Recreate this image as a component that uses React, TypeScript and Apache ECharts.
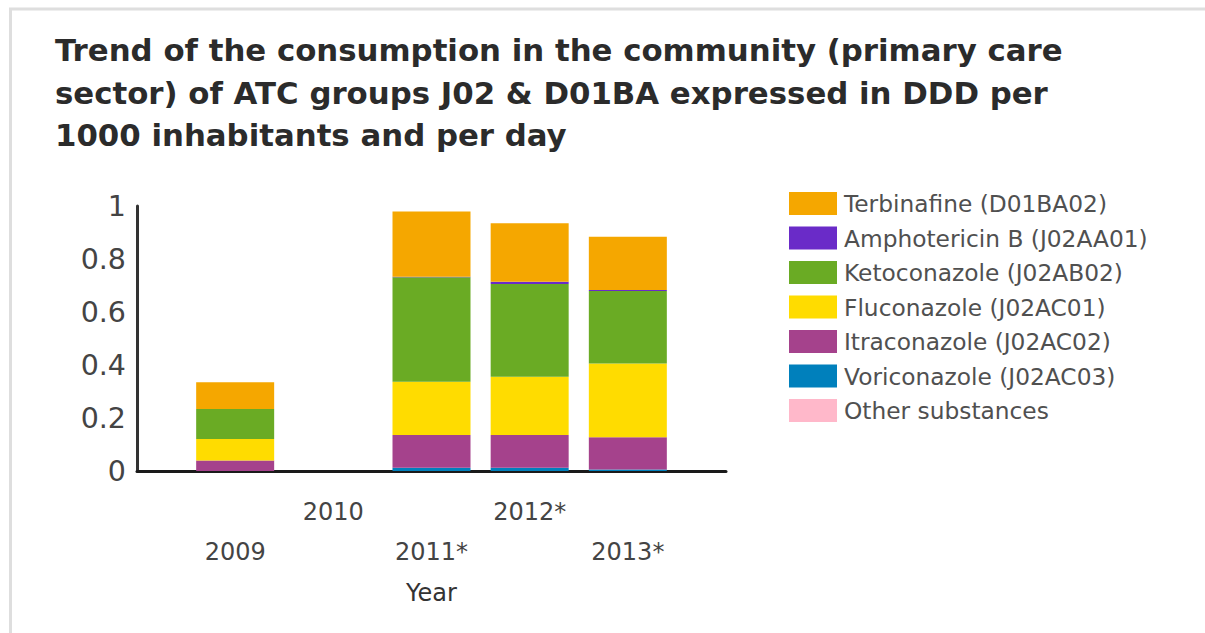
import React, { useEffect, useRef } from "react";
import * as echarts from "echarts";

const TITLE = "Trend of the consumption in the community (primary care\nsector) of ATC groups J02 & D01BA expressed in DDD per\n1000 inhabitants and per day";
const years = ["2009", "2010", "2011*", "2012*", "2013*"];
const yTicks = [0, 0.2, 0.4, 0.6, 0.8, 1];

// values per year (null = no data)
const otherSubstances = [0, null, 0, 0, 0];
const voriconazole = [0, null, 0.012, 0.012, 0.006];
const itraconazole = [0.04, null, 0.124, 0.124, 0.121];
const fluconazole = [0.081, null, 0.201, 0.22, 0.279];
const ketoconazole = [0.113, null, 0.394, 0.35, 0.273];
const amphotericinB = [0, null, 0.002, 0.008, 0.004];
const terbinafine = [0.101, null, 0.246, 0.221, 0.201];

const seriesDefs = [
  { name: "Other substances", data: otherSubstances, color: "#FFB8CA" },
  { name: "Voriconazole (J02AC03)", data: voriconazole, color: "#0080BC" },
  { name: "Itraconazole (J02AC02)", data: itraconazole, color: "#A5428C" },
  { name: "Fluconazole (J02AC01)", data: fluconazole, color: "#FFDC00" },
  { name: "Ketoconazole (J02AB02)", data: ketoconazole, color: "#6AAB24" },
  { name: "Amphotericin B (J02AA01)", data: amphotericinB, color: "#6A2BC8" },
  { name: "Terbinafine (D01BA02)", data: terbinafine, color: "#F5A700" },
];

// padded category axis: an empty slot at each end so the axis spans beyond the bars
const categories = ["", ...years, ""];

export default function App() {
  const ref = useRef<HTMLDivElement>(null);
  useEffect(() => {
    if (!ref.current) return;
    const chart = echarts.init(ref.current, null, { renderer: "svg" });
    const font = "DejaVu Sans, Verdana, sans-serif";
    chart.setOption({
      animation: false,
      backgroundColor: "#fff",
      title: {
        text: TITLE,
        left: 50,
        top: 24,
        textStyle: {
          fontFamily: font,
          fontWeight: "bold",
          fontSize: 30.8,
          lineHeight: 42.5,
          color: "#2b2b2b",
        },
      },
      graphic: [
        {
          type: "rect",
          shape: { x: 10.5, y: 9, width: 1300, height: 700 },
          style: { fill: "none", stroke: "#dedede", lineWidth: 3 },
          silent: true,
        },
      ],
      legend: {
        orient: "vertical",
        left: 784,
        top: 187,
        itemWidth: 48,
        itemHeight: 23,
        itemGap: 11.5,
        icon: "rect",
        data: seriesDefs.map((s) => s.name).reverse(),
        textStyle: { fontFamily: font, fontSize: 23.3, color: "#505050", padding: [0, 0, 0, 2] },
      },
      grid: { left: 137, right: 479, top: 206, bottom: 162 },
      xAxis: {
        type: "category",
        data: categories,
        boundaryGap: false,
        splitLine: { show: false },
        axisTick: { show: false },
        axisLine: { show: true, lineStyle: { color: "#1a1a1a", width: 3 } },
        name: "Year",
        nameLocation: "middle",
        nameGap: 110,
        nameTextStyle: { fontFamily: font, fontSize: 24, color: "#333" },
        axisLabel: {
          interval: 0,
          margin: 29,
          fontFamily: font,
          fontSize: 24,
          color: "#444",
          formatter: (v: string, idx: number) => {
            if (!v) return "";
            return idx % 2 === 1 ? `{lo|${v}}` : `{hi|${v}}`;
          },
          rich: {
            lo: { fontFamily: font, fontSize: 24, color: "#444", padding: [40, 0, 0, 0] },
            hi: { fontFamily: font, fontSize: 24, color: "#444" },
          },
        },
      },
      yAxis: {
        type: "value",
        min: yTicks[0],
        max: yTicks[yTicks.length - 1],
        interval: 0.2,
        splitLine: { show: false },
        axisTick: { show: false },
        axisLine: { show: true, lineStyle: { color: "#333", width: 3 } },
        axisLabel: { fontFamily: font, fontSize: 28.5, color: "#444", margin: 11 },
      },
      series: seriesDefs.map((s) => ({
        type: "bar",
        name: s.name,
        stack: "total",
        barWidth: 78,
        clip: false,
        itemStyle: { color: s.color },
        data: ["-", ...s.data.map((v) => (v === null ? "-" : v)), "-"],
      })),
    });
    return () => chart.dispose();
  }, []);
  return (
    <div
      ref={ref}
      style={{ position: "absolute", left: 0, top: 0, width: 1205, height: 633 }}
    />
  );
}
